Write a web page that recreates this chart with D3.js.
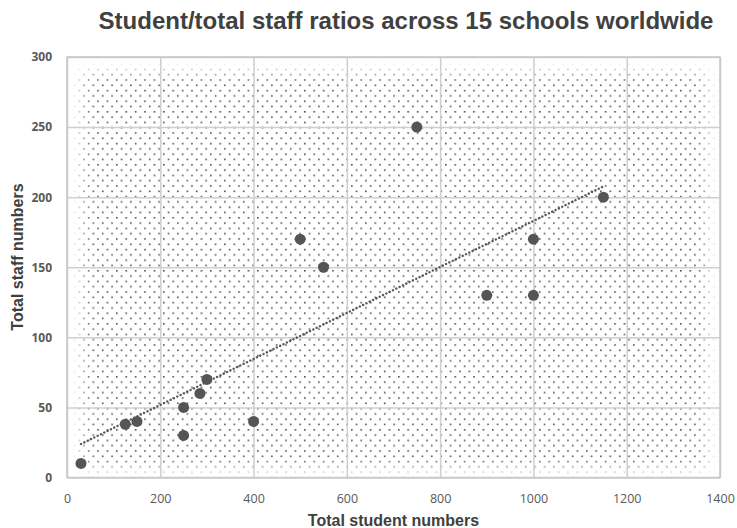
<!DOCTYPE html>
<html>
<head>
<meta charset="utf-8">
<script src="https://cdn.jsdelivr.net/npm/d3@7/dist/d3.min.js"></script>
<style>
  html, body { margin: 0; padding: 0; background: #ffffff; }
  svg { display: block; }
</style>
</head>
<body>
<svg id="chart" width="737" height="528"></svg>
<script>
// ---- Data ----
const studentNumbers = [30, 125, 150, 250, 250, 285, 300, 400, 500, 550, 750, 900, 1000, 1000, 1150];
const staffNumbers   = [10, 38, 40, 30, 50, 60, 70, 40, 170, 150, 250, 130, 170, 130, 200];
const xTickValues = [0, 200, 400, 600, 800, 1000, 1200, 1400];
const yTickValues = [0, 50, 100, 150, 200, 250, 300];
const chartTitle = "Student/total staff ratios across 15 schools worldwide";
const xAxisTitle = "Total student numbers";
const yAxisTitle = "Total staff numbers";

const points = studentNumbers.map((x, i) => ({ x, y: staffNumbers[i] }));

// ---- Layout ----
const W = 737, H = 528;
const margin = { top: 57, right: 17, bottom: 50.5, left: 67 };
const innerW = W - margin.left - margin.right;
const innerH = H - margin.top - margin.bottom;

const svg = d3.select("#chart");
const defs = svg.append("defs");

// dotted pattern fill (staggered dots)
const pw = 9.4, ph = 10.6;
const pat = defs.append("pattern")
  .attr("id", "dots")
  .attr("patternUnits", "userSpaceOnUse")
  .attr("width", pw).attr("height", ph)
  .attr("x", margin.left + 2).attr("y", margin.top + 1);
pat.append("rect").attr("x", 0).attr("y", 0).attr("width", 1.6).attr("height", 1.6).attr("fill", "#404040");
pat.append("rect").attr("x", pw / 2).attr("y", ph / 2).attr("width", 1.6).attr("height", 1.6).attr("fill", "#404040");

// soft-edge mask
const blur = defs.append("filter").attr("id", "soft")
  .attr("x", "-10%").attr("y", "-10%").attr("width", "120%").attr("height", "120%");
blur.append("feGaussianBlur").attr("stdDeviation", 7);
const mask = defs.append("mask").attr("id", "softMask")
  .attr("maskUnits", "userSpaceOnUse")
  .attr("x", 0).attr("y", 0).attr("width", W).attr("height", H);
mask.append("rect")
  .attr("x", margin.left + 15).attr("y", margin.top + 15)
  .attr("width", innerW - 28).attr("height", innerH - 24)
  .attr("fill", "white").attr("filter", "url(#soft)");

// ---- Scales ----
const x = d3.scaleLinear().domain([0, 1400]).range([0, innerW]);
const y = d3.scaleLinear().domain([0, 300]).range([innerH, 0]);

// pattern background
svg.append("rect")
  .attr("x", margin.left).attr("y", margin.top).attr("width", innerW).attr("height", innerH)
  .attr("fill", "url(#dots)")
  .attr("mask", "url(#softMask)")
  .attr("opacity", 0.9);

const g = svg.append("g").attr("transform", `translate(${margin.left},${margin.top})`);

// gridlines
const gridColor = "#cfcfcf";
g.append("g")
  .call(d3.axisLeft(y).tickValues(yTickValues).tickSize(-innerW).tickFormat(""))
  .call(s => s.select(".domain").remove())
  .call(s => s.selectAll("line").attr("stroke", gridColor).attr("stroke-width", 1.5));
g.append("g")
  .attr("transform", `translate(0,${innerH})`)
  .call(d3.axisBottom(x).tickValues(xTickValues).tickSize(-innerH).tickFormat(""))
  .call(s => s.select(".domain").remove())
  .call(s => s.selectAll("line").attr("stroke", gridColor).attr("stroke-width", 1.5));

// plot border
g.append("rect")
  .attr("x", 0).attr("y", 0).attr("width", innerW).attr("height", innerH)
  .attr("fill", "none").attr("stroke", "#c8c8c8").attr("stroke-width", 1.5);

// axis tick labels
const yAxis = g.append("g")
  .call(d3.axisLeft(y).tickValues(yTickValues).tickSize(0).tickPadding(15).tickFormat(d3.format("d")));
yAxis.select(".domain").remove();
yAxis.selectAll("text")
  .attr("fill", "#595959")
  .style("font-family", "'Open Sans', sans-serif")
  .style("font-size", "12px")
  .style("font-weight", "700");

const xAxis = g.append("g")
  .attr("transform", `translate(0,${innerH})`)
  .call(d3.axisBottom(x).tickValues(xTickValues).tickSize(0).tickPadding(17).tickFormat(d3.format("d")));
xAxis.select(".domain").remove();
xAxis.selectAll("text")
  .attr("fill", "#595959")
  .style("font-family", "'Open Sans', sans-serif")
  .style("font-size", "12.5px");

// linear trendline (least squares fit of the data)
const mx = d3.mean(points, d => d.x), my = d3.mean(points, d => d.y);
const sxy = d3.sum(points, d => (d.x - mx) * (d.y - my));
const sxx = d3.sum(points, d => (d.x - mx) ** 2);
const slope = sxy / sxx, intercept = my - slope * mx;
const [xmin, xmax] = d3.extent(points, d => d.x);
const trend = [xmin, xmax].map(v => ({ x: v, y: intercept + slope * v }));
g.append("path")
  .datum(trend)
  .attr("d", d3.line().x(d => x(d.x)).y(d => y(d.y)))
  .attr("fill", "none")
  .attr("stroke", "#595959")
  .attr("stroke-width", 2.4)
  .attr("stroke-linecap", "round")
  .attr("stroke-dasharray", "0.1 3.6");

// points
g.append("g").selectAll("circle")
  .data(points)
  .join("circle")
  .attr("cx", d => x(d.x))
  .attr("cy", d => y(d.y))
  .attr("r", 5.5)
  .attr("fill", "#555555");

// titles
svg.append("text")
  .attr("x", 406).attr("y", 29)
  .attr("text-anchor", "middle")
  .attr("fill", "#404040")
  .style("font-family", "'Liberation Sans', Arial, sans-serif")
  .style("font-size", "24px")
  .style("font-weight", "700")
  .text(chartTitle);

svg.append("text")
  .attr("x", margin.left + innerW / 2).attr("y", 526)
  .attr("text-anchor", "middle")
  .attr("fill", "#404040")
  .style("font-family", "'Liberation Sans', Arial, sans-serif")
  .style("font-size", "16px")
  .style("font-weight", "700")
  .text(xAxisTitle);

svg.append("text")
  .attr("transform", "translate(23,257) rotate(-90)")
  .attr("text-anchor", "middle")
  .attr("fill", "#404040")
  .style("font-family", "'Liberation Sans', Arial, sans-serif")
  .style("font-size", "16px")
  .style("font-weight", "700")
  .text(yAxisTitle);
</script>
</body>
</html>
